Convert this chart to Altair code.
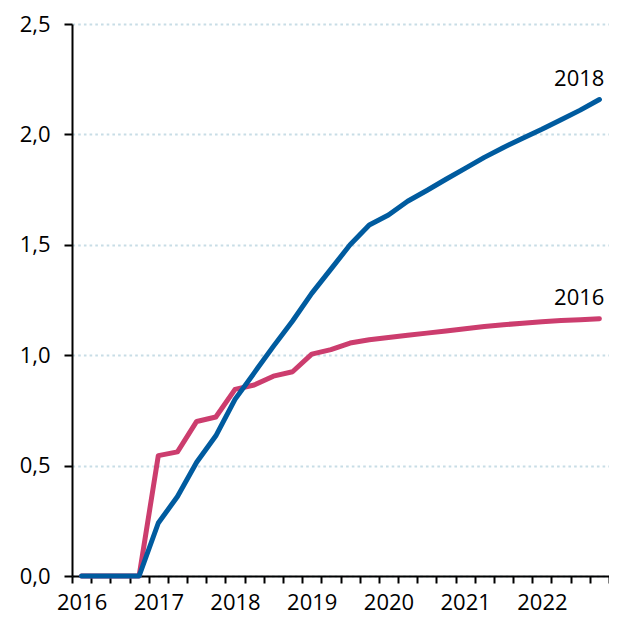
import altair as alt
import pandas as pd

years = [2016, 2017, 2018, 2019, 2020, 2021, 2022]
quarters = list(range(28))  # 2016Q1 .. 2022Q4

s2016 = [0, 0, 0, 0, 0.545, 0.562, 0.70, 0.72, 0.845, 0.865, 0.905, 0.925,
         1.005, 1.025, 1.055, 1.07, 1.08, 1.09, 1.10, 1.11, 1.12, 1.13,
         1.138, 1.145, 1.152, 1.157, 1.161, 1.165]
s2018 = [0, 0, 0, 0, 0.24, 0.36, 0.515, 0.635, 0.80, 0.92, 1.04, 1.155,
         1.28, 1.39, 1.50, 1.59, 1.635, 1.697, 1.746, 1.797, 1.846, 1.896,
         1.941, 1.983, 2.023, 2.066, 2.11, 2.158]
series_names = ["2016", "2018"]
colors = ["#cc3d6e", "#005b9f"]

rows = []
for name, vals in zip(series_names, [s2016, s2018]):
    for q, v in zip(quarters, vals):
        rows.append({"q": q + 0.5, "v": v, "s": name})
df = pd.DataFrame(rows)

lab = pd.DataFrame({
    "q": [quarters[-1] + 0.5, quarters[-1] + 0.5],
    "v": [s2016[-1], s2018[-1]],
    "s": series_names,
})

FONT = "Open Sans"

x = alt.X("q:Q", scale=alt.Scale(domain=[0, 28], nice=False, zero=False),
          axis=alt.Axis(tickCount=28, title=None, grid=False,
                        domainColor="black", domainWidth=2,
                        tickColor="black", tickWidth=2, tickSize=7,
                        labelExpr="datum.value % 4 == 0 && datum.value < 28 ? toString(2016 + datum.value / 4) : ''",
                        labelOffset=9.6, labelOverlap=False, labelFlush=False,
                        labelFont=FONT, labelFontSize=22, labelColor="black",
                        labelPadding=9))
y = alt.Y("v:Q", scale=alt.Scale(domain=[0, 2.5], nice=False),
          axis=alt.Axis(values=[0, 0.5, 1.0, 1.5, 2.0, 2.5], title=None,
                        grid=True, gridColor="#c8dde6", gridWidth=2,
                        gridDash=[2.6, 3.1],
                        domainColor="black", domainWidth=2,
                        tickColor="black", tickWidth=2, tickSize=8,
                        labelExpr="replace(format(datum.value, '.1f'), '.', ',')",
                        labelFont=FONT, labelFontSize=22, labelColor="black",
                        labelPadding=14))

color = alt.Color("s:N", scale=alt.Scale(domain=series_names, range=colors), legend=None)

lines = alt.Chart(df).mark_line(strokeWidth=5, strokeCap="round", strokeJoin="round").encode(
    x=x, y=y, color=color)

texts = alt.Chart(lab).mark_text(font=FONT, fontSize=22, align="right", dy=-21, dx=5,
                                 color="black").encode(
    x="q:Q", y="v:Q", text="s:N")

chart = alt.layer(lines, texts).properties(
    width=537, height=552,
    autosize=alt.AutoSizeParams(type="none"),
    padding={"left": 64, "top": 16, "right": 0, "bottom": 41},
).configure_view(stroke=None)

chart.save("out.html", embed_options={"renderer": "svg", "actions": False})
